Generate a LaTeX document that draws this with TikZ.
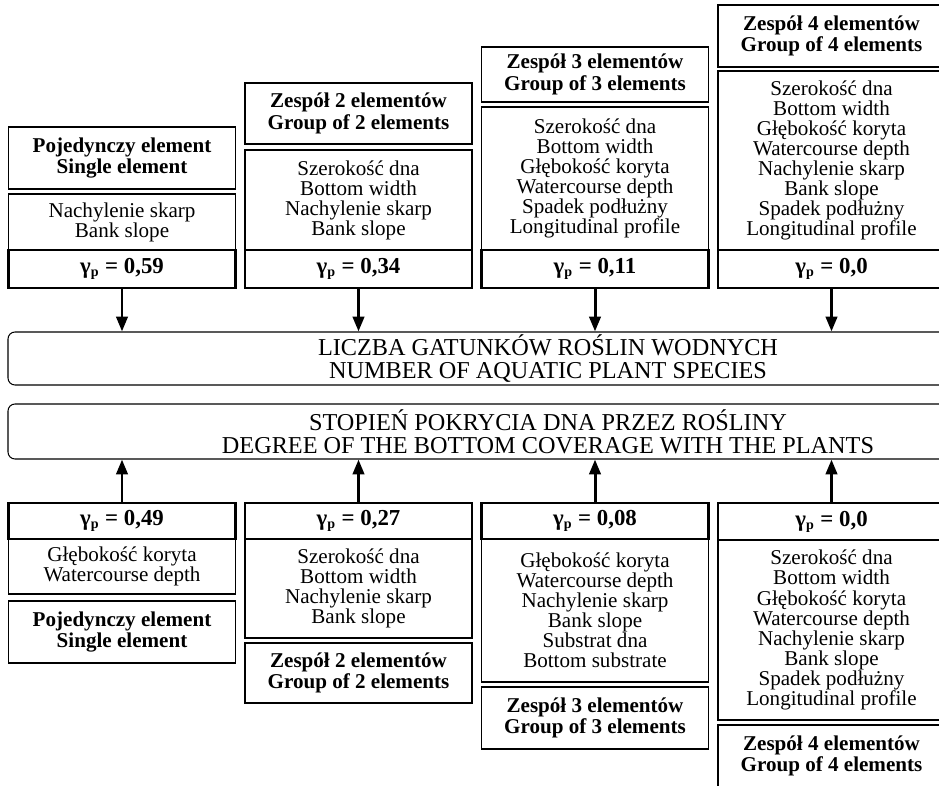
\documentclass[tikz,border=0pt]{standalone}
\usepackage{fontspec}
\setmainfont{Liberation Serif}
\usetikzlibrary{arrows.meta}

\tikzset{
  cell/.style={draw, line width=1pt, inner sep=0pt, align=center,
    minimum width=227*0.02cm, minimum height=#1*0.02cm,
    font=\fontsize{12}{11.4}\selectfont},
  headcell/.style={cell=#1, font=\fontsize{12}{12.2}\selectfont\bfseries},
  gammacell/.style={cell=#1, line width=1.2pt, font=\fontsize{13}{13}\selectfont\bfseries},
  widebox/.style={draw, line width=0.6pt, rounded corners=4pt, inner sep=0pt,
    align=center, minimum width=1080*0.02cm, minimum height=#1*0.02cm,
    font=\fontsize{13.8}{13.2}\selectfont},
  arr/.style={line width=1.7pt, -{Triangle[width=6.5pt,length=8.5pt]}}
}
\newcommand{\gp}{γ\textsubscript{\fontsize{8}{8}\selectfont p}}

\begin{document}
\begin{tikzpicture}[x=0.02cm, y=-0.02cm]
    \useasboundingbox (0,0) rectangle (939,786);
    % top row
    \node[headcell=62] (th1) at (122,158) {Pojedynczy element\\Single element};
    \node[cell=56] (tc1) at (122,222) {Nachylenie skarp\\Bank slope};
    \node[gammacell=38] (tg1) at (122,269) {\gp{} = 0,59};

    \node[headcell=61] (th2) at (358.5,113.5) {Zespół 2 elementów\\Group of 2 elements};
    \node[cell=100] (tc2) at (358.5,200) {Szerokość dna\\Bottom width\\Nachylenie skarp\\Bank slope};
    \node[gammacell=38] (tg2) at (358.5,269) {\gp{} = 0,34};

    \node[headcell=55] (th3) at (595,74.5) {Zespół 3 elementów\\Group of 3 elements};
    \node[cell=143] (tc3) at (595,178.5) {Szerokość dna\\Bottom width\\Głębokość koryta\\Watercourse depth\\Spadek podłużny\\Longitudinal profile};
    \node[gammacell=38] (tg3) at (595,269) {\gp{} = 0,11};

    \node[headcell=62] (th4) at (831.5,36) {Zespół 4 elementów\\Group of 4 elements};
    \node[cell=179] (tc4) at (831.5,160.5) {Szerokość dna\\Bottom width\\Głębokość koryta\\Watercourse depth\\Nachylenie skarp\\Bank slope\\Spadek podłużny\\Longitudinal profile};
    \node[gammacell=38] (tg4) at (831.5,269) {\gp{} = 0,0};

    % middle
    \node[widebox=53] (liczba) at (548,358.5) {LICZBA GATUNKÓW ROŚLIN WODNYCH\\NUMBER OF AQUATIC PLANT SPECIES};
    \node[widebox=55] (stopien) at (548,431.5) {STOPIEŃ POKRYCIA DNA PRZEZ ROŚLINY\\DEGREE OF THE BOTTOM COVERAGE WITH THE PLANTS};

    % bottom row
    \node[gammacell=36] (bg1) at (122,521) {\gp{} = 0,49};
    \node[cell=55] (bc1) at (122,566.5) {Głębokość koryta\\Watercourse depth};
    \node[headcell=62] (bh1) at (122,632) {Pojedynczy element\\Single element};

    \node[gammacell=36] (bg2) at (358.5,521) {\gp{} = 0,27};
    \node[cell=99] (bc2) at (358.5,588.5) {Szerokość dna\\Bottom width\\Nachylenie skarp\\Bank slope};
    \node[headcell=60] (bh2) at (358.5,673) {Zespół 2 elementów\\Group of 2 elements};

    \node[gammacell=36] (bg3) at (595,521) {\gp{} = 0,08};
    \node[cell=143] (bc3) at (595,610.5) {Głębokość koryta\\Watercourse depth\\Nachylenie skarp\\Bank slope\\Substrat dna\\Bottom substrate};
    \node[headcell=62] (bh3) at (595,718) {Zespół 3 elementów\\Group of 3 elements};

    \node[gammacell=37] (bg4) at (831.5,521.5) {\gp{} = 0,0};
    \node[cell=180] (bc4) at (831.5,630) {Szerokość dna\\Bottom width\\Głębokość koryta\\Watercourse depth\\Nachylenie skarp\\Bank slope\\Spadek podłużny\\Longitudinal profile};
    \node[headcell=62] (bh4) at (831.5,756) {Zespół 4 elementów\\Group of 4 elements};

    % arrows
    \foreach \i in {1,...,4} {
        \draw[arr] (tg\i.south) -- (tg\i.south |- liczba.north);
        \draw[arr] (bg\i.north) -- (bg\i.north |- stopien.south);
    }
\end{tikzpicture}
\end{document}
